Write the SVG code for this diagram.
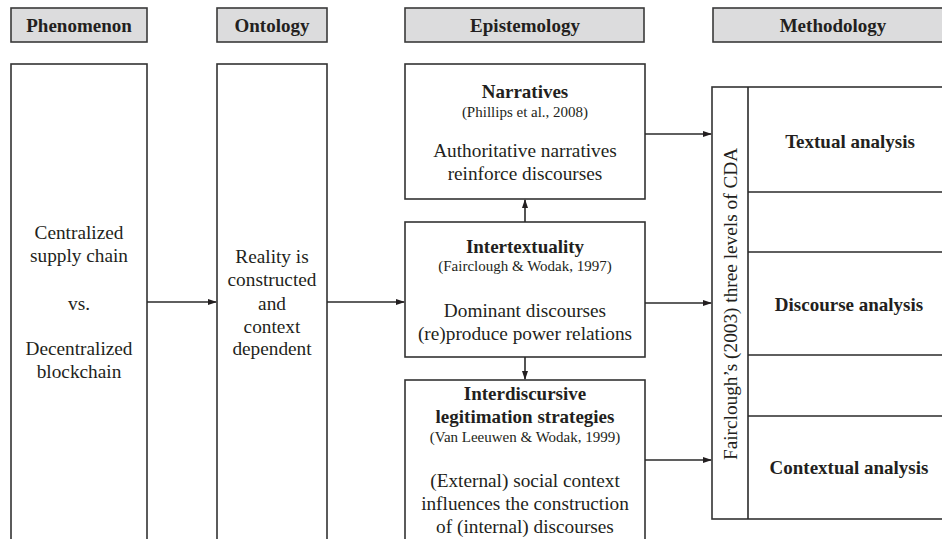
<svg xmlns="http://www.w3.org/2000/svg" width="942" height="539" viewBox="0 0 942 539">
<style>
.hdr{fill:#dcdcdd;stroke:#3a3a3a;stroke-width:1.6}
.box{fill:#fff;stroke:#333;stroke-width:1.6}
.ln{stroke:#2a2a2a;stroke-width:1.6;fill:none}
text{font-family:'Liberation Serif','Tinos','DejaVu Serif',serif;fill:#231f20;text-anchor:middle}
.h{font-size:19px;font-weight:bold}
.t{font-size:19.3px}
.b{font-size:19px;font-weight:bold}
.c{font-size:15px}
</style>
<defs>
<marker id="ah" markerWidth="9" markerHeight="8" refX="8" refY="4" orient="auto" markerUnits="userSpaceOnUse">
<path d="M0,1 L9,4 L0,7 Z" fill="#231f20"/>
</marker>
</defs>
<g id="headers">
<g id="h-phenomenon"><rect class="hdr" x="11" y="8" width="136" height="34"/><text class="h" x="79" y="32">Phenomenon</text></g>
<g id="h-ontology"><rect class="hdr" x="217" y="8" width="110" height="34"/><text class="h" x="272" y="32">Ontology</text></g>
<g id="h-epistemology"><rect class="hdr" x="405" y="8" width="239" height="34"/><text class="h" x="525" y="32">Epistemology</text></g>
<g id="h-methodology"><rect class="hdr" x="713" y="8" width="240" height="34"/><text class="h" x="833" y="32">Methodology</text></g>
</g>
<g id="phenomenon">
<rect class="box" x="11" y="64" width="136" height="490"/>
<text class="t" x="79" y="239">Centralized</text>
<text class="t" x="79" y="262">supply chain</text>
<text class="t" x="79" y="310">vs.</text>
<text class="t" x="79" y="355">Decentralized</text>
<text class="t" x="79" y="378">blockchain</text>
</g>
<g id="ontology">
<rect class="box" x="217" y="64" width="110" height="490"/>
<text class="t" x="272" y="263">Reality is</text>
<text class="t" x="272" y="286">constructed</text>
<text class="t" x="272" y="310">and</text>
<text class="t" x="272" y="333">context</text>
<text class="t" x="272" y="355">dependent</text>
</g>
<g id="narratives">
<rect class="box" x="405" y="64" width="240" height="135"/>
<text class="b" x="525" y="98">Narratives</text>
<text class="c" x="525" y="117">(Phillips et al., 2008)</text>
<text class="t" x="525" y="157">Authoritative narratives</text>
<text class="t" x="525" y="180">reinforce discourses</text>
</g>
<g id="intertextuality">
<rect class="box" x="405" y="222" width="240" height="135"/>
<text class="b" x="525" y="253">Intertextuality</text>
<text class="c" x="525" y="271">(Fairclough &amp; Wodak, 1997)</text>
<text class="t" x="525" y="317">Dominant discourses</text>
<text class="t" x="525" y="340">(re)produce power relations</text>
</g>
<g id="interdiscursive">
<rect class="box" x="405" y="380" width="240" height="180"/>
<text class="b" x="525" y="400">Interdiscursive</text>
<text class="b" x="525" y="423">legitimation strategies</text>
<text class="c" x="525" y="442">(Van Leeuwen &amp; Wodak, 1999)</text>
<text class="t" x="525" y="487">(External) social context</text>
<text class="t" x="525" y="510">influences the construction</text>
<text class="t" x="525" y="533">of (internal) discourses</text>
</g>
<g id="cda">
<rect class="box" x="712" y="87" width="240" height="432"/>
<line class="ln" x1="748" y1="87" x2="748" y2="519"/>
<line class="ln" x1="748" y1="192" x2="952" y2="192"/>
<line class="ln" x1="748" y1="252" x2="952" y2="252"/>
<line class="ln" x1="748" y1="355" x2="952" y2="355"/>
<line class="ln" x1="748" y1="416" x2="952" y2="416"/>
<text class="t" transform="translate(737,304) rotate(-90)" x="0" y="0">Fairclough’s (2003) three levels of CDA</text>
<text class="b" x="850" y="148">Textual analysis</text>
<text class="b" x="849" y="311">Discourse analysis</text>
<text class="b" x="849" y="474">Contextual analysis</text>
</g>
<g id="connectors">
<line class="ln" x1="147" y1="302" x2="216" y2="302" marker-end="url(#ah)"/>
<line class="ln" x1="327" y1="302" x2="404" y2="302" marker-end="url(#ah)"/>
<line class="ln" x1="525" y1="222" x2="525" y2="200" marker-end="url(#ah)"/>
<line class="ln" x1="525" y1="357" x2="525" y2="379" marker-end="url(#ah)"/>
<line class="ln" x1="645" y1="134" x2="711" y2="134" marker-end="url(#ah)"/>
<line class="ln" x1="645" y1="303" x2="711" y2="303" marker-end="url(#ah)"/>
<line class="ln" x1="645" y1="460" x2="711" y2="460" marker-end="url(#ah)"/>
</g>
</svg>
